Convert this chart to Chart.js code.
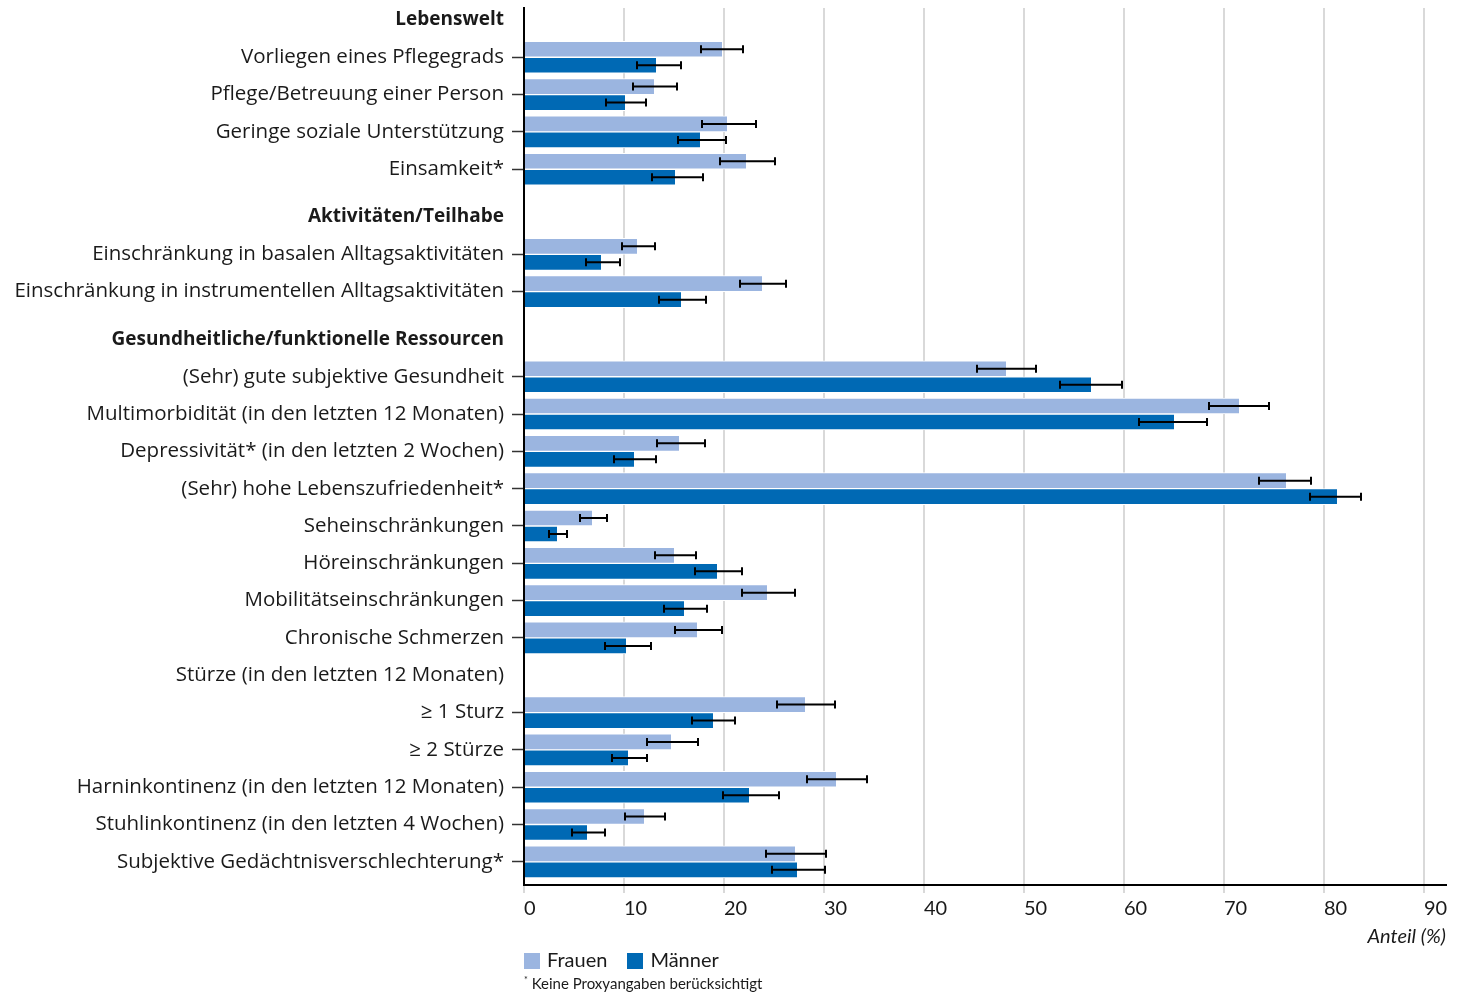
<!DOCTYPE html>
<html lang="de">
<head>
  <meta charset="UTF-8" />
  <title>Lebenswelt, Teilhabe und Gesundheit – Frauen und Männer</title>
  <script src="https://cdn.jsdelivr.net/npm/chart.js"></script>
  <style>
    html, body { margin: 0; padding: 0; background: #fff; }
    .wrap { position: relative; width: 1468px; height: 992px; }
    #legende {
      position: absolute; left: 524px; top: 947px;
      font: 20px Lato, sans-serif; color: #1a1a1a;
      display: flex; gap: 20px; align-items: center;
    }
    #legende span.box { display: inline-block; width: 16px; height: 16px; margin-right: 7px; vertical-align: -2px; }
    #fussnote {
      position: absolute; left: 524px; top: 974px;
      font: 15px Lato, sans-serif; color: #1a1a1a;
    }
    #fussnote sup { font-size: 9px; }
  </style>
</head>
<body>
  <div class="wrap">
    <canvas id="grafik"></canvas>
    <div id="legende"></div>
    <div id="fussnote"><sup>*</sup> Keine Proxyangaben berücksichtigt</div>
  </div>

  <script>
    const kategorien = [
      "Lebenswelt",
      "Vorliegen eines Pflegegrads",
      "Pflege/Betreuung einer Person",
      "Geringe soziale Unterstützung",
      "Einsamkeit*",
      "Aktivitäten/Teilhabe",
      "Einschränkung in basalen Alltagsaktivitäten",
      "Einschränkung in instrumentellen Alltagsaktivitäten",
      "Gesundheitliche/funktionelle Ressourcen",
      "(Sehr) gute subjektive Gesundheit",
      "Multimorbidität (in den letzten 12 Monaten)",
      "Depressivität* (in den letzten 2 Wochen)",
      "(Sehr) hohe Lebenszufriedenheit*",
      "Seheinschränkungen",
      "Höreinschränkungen",
      "Mobilitätseinschränkungen",
      "Chronische Schmerzen",
      "Stürze (in den letzten 12 Monaten)",
      "≥ 1 Sturz",
      "≥ 2 Stürze",
      "Harninkontinenz (in den letzten 12 Monaten)",
      "Stuhlinkontinenz (in den letzten 4 Wochen)",
      "Subjektive Gedächtnisverschlechterung*"
    ];
    // fett gesetzte Abschnittstitel (mit etwas mehr Abstand davor)
    const ueberschriften = ["Lebenswelt", "Aktivitäten/Teilhabe", "Gesundheitliche/funktionelle Ressourcen"];

    const serien = ["Frauen", "Männer"];

    const frauen       = [null, 19.8, 13.0, 20.3, 22.2, null, 11.3, 23.8, null, 48.2, 71.5, 15.5, 76.2, 6.8, 15.0, 24.3, 17.3, null, 28.1, 14.7, 31.2, 12.0, 27.1];
    const frauenUnten  = [null, 17.7, 10.9, 17.8, 19.6, null,  9.8, 21.6, null, 45.3, 68.5, 13.3, 73.5, 5.6, 13.1, 21.8, 15.1, null, 25.3, 12.3, 28.3, 10.1, 24.2];
    const frauenOben   = [null, 21.9, 15.3, 23.2, 25.1, null, 13.1, 26.2, null, 51.2, 74.5, 18.1, 78.7, 8.3, 17.2, 27.1, 19.8, null, 31.1, 17.4, 34.3, 14.1, 30.2];

    const maenner      = [null, 13.2, 10.1, 17.6, 15.1, null,  7.7, 15.7, null, 56.7, 65.0, 11.0, 81.3, 3.3, 19.3, 16.0, 10.2, null, 18.9, 10.4, 22.5,  6.3, 27.3];
    const maennerUnten = [null, 11.3,  8.2, 15.4, 12.8, null,  6.2, 13.5, null, 53.6, 61.5,  9.0, 78.6, 2.5, 17.1, 14.0,  8.1, null, 16.8,  8.8, 19.9,  4.8, 24.8];
    const maennerOben  = [null, 15.7, 12.2, 20.2, 17.9, null,  9.6, 18.2, null, 59.8, 68.3, 13.2, 83.7, 4.3, 21.8, 18.3, 12.7, null, 21.1, 12.3, 25.5,  8.1, 30.1];

    const xTicks = [0, 10, 20, 30, 40, 50, 60, 70, 80, 90];

    const farben = ["#9bb5e0", "#0069b4"];
    const schrift = "'Open Sans', sans-serif";

    // Zeilenpositionen: Abschnittstitel bekommen etwas Luft davor
    const ZUSATZ = 0.28;
    const positionen = [];
    let p = -1;
    kategorien.forEach((k, i) => {
      p += 1;
      if (i > 0 && ueberschriften.includes(k)) p += ZUSATZ;
      positionen.push(p);
    });
    const hatBalken = i => frauen[i] !== null;
    const istTitel = i => ueberschriften.includes(kategorien[i]);

    const zeilen = kategorien.map((k, i) => i).filter(hatBalken);
    const punkte = werte => zeilen.map(i => ({ x: werte[i], y: positionen[i] }));

    const fehlerbalken = {
      id: "fehlerbalken",
      afterDatasetsDraw(chart) {
        const ctx = chart.ctx;
        const xs = chart.scales.x;
        ctx.save();
        ctx.strokeStyle = "#000";
        ctx.lineWidth = 2;
        chart.data.datasets.forEach((ds, d) => {
          chart.getDatasetMeta(d).data.forEach((bar, j) => {
            const a = xs.getPixelForValue(ds.unten[j]);
            const b = xs.getPixelForValue(ds.oben[j]);
            const y = bar.y;
            ctx.beginPath();
            ctx.moveTo(a, y); ctx.lineTo(b, y);
            ctx.moveTo(a, y - 4); ctx.lineTo(a, y + 4);
            ctx.moveTo(b, y - 4); ctx.lineTo(b, y + 4);
            ctx.stroke();
          });
        });
        ctx.restore();
      }
    };

    const chart = new Chart(document.getElementById("grafik"), {
      type: "bar",
      data: {
        datasets: [
          {
            label: serien[0], data: punkte(frauen),
            unten: zeilen.map(i => frauenUnten[i]), oben: zeilen.map(i => frauenOben[i]),
            backgroundColor: farben[0]
          },
          {
            label: serien[1], data: punkte(maenner),
            unten: zeilen.map(i => maennerUnten[i]), oben: zeilen.map(i => maennerOben[i]),
            backgroundColor: farben[1]
          }
        ]
      },
      options: {
        indexAxis: "y",
        responsive: true,
        maintainAspectRatio: false,
        animation: false,
        barThickness: 16,
        borderColor: "#fff",
        borderWidth: { top: 1, bottom: 1, left: 0, right: 0 },
        borderSkipped: false,
        layout: { padding: { top: 8, right: 22, bottom: 42, left: 0 } },
        plugins: {
          legend: { display: false },
          tooltip: { enabled: false }
        },
        scales: {
          x: {
            type: "linear",
            position: "bottom",
            min: 0,
            max: 92.2,
            afterBuildTicks: s => { s.ticks = xTicks.map(v => ({ value: v })); },
            afterFit: s => { s.height = 65; },
            border: { color: "#000", width: 2 },
            grid: { color: "#d9d9d9", lineWidth: 2, tickLength: 8 },
            ticks: {
              align: "start",
              padding: 4,
              color: "#1a1a1a",
              font: { family: "Lato", size: 20 }
            },
            title: {
              display: true,
              text: "Anteil (%)",
              align: "end",
              color: "#1a1a1a",
              font: { family: "Lato", size: 20, style: "italic" },
              padding: { top: 0, bottom: 1 }
            }
          },
          y: {
            type: "linear",
            reverse: true,
            offset: false,
            min: -0.32,
            max: positionen[positionen.length - 1] + 0.62,
            afterBuildTicks: s => { s.ticks = positionen.map(v => ({ value: v })); },
            afterFit: s => { s.width = 524; s.paddingTop = 0; s.paddingBottom = 0; },
            border: { color: "#000", width: 2 },
            grid: {
              offset: false,
              drawOnChartArea: false,
              tickLength: 12,
              tickWidth: 1.5,
              tickColor: c => hatBalken(c.index) ? "#333" : "rgba(0,0,0,0)"
            },
            ticks: {
              autoSkip: false,
              padding: 8,
              color: "#1a1a1a",
              font: c => ({
                family: schrift,
                size: istTitel(c.index) ? 19 : 20.5,
                weight: istTitel(c.index) ? "bold" : "normal"
              }),
              callback: (v, i) => kategorien[i]
            }
          }
        }
      },
      plugins: [fehlerbalken]
    });

    // Legende unter der Achse
    const legende = document.getElementById("legende");
    chart.data.datasets.forEach(ds => {
      const el = document.createElement("div");
      el.innerHTML = `<span class="box" style="background:${ds.backgroundColor}"></span>${ds.label}`;
      legende.appendChild(el);
    });
  </script>
</body>
</html>
